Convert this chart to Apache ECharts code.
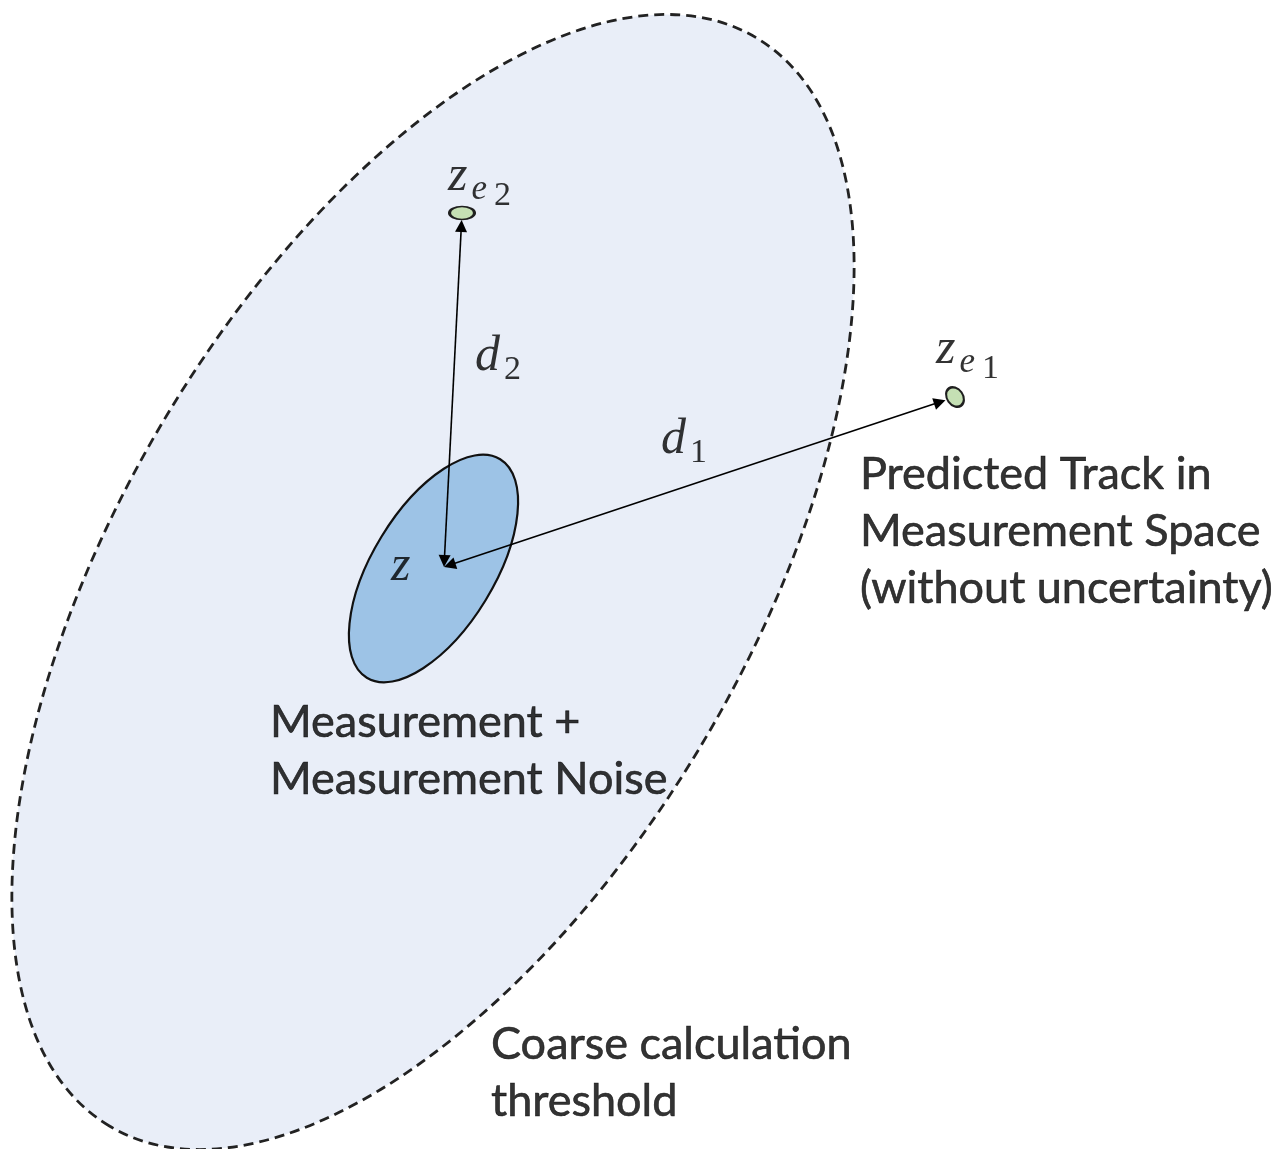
<!DOCTYPE html>
<html><head><meta charset="utf-8">
<script src="https://cdn.jsdelivr.net/npm/echarts@6/dist/echarts.min.js"></script>
<style>html,body{margin:0;padding:0;background:#fff}#c{width:1285px;height:1149px}</style>
</head><body><div id="c"></div>
<script>
// ---- data (measurement-space units; y grows downward) ----
// regions: [centerX, centerY, semiMajor, semiMinor, tiltDeg]
const gateRegion = [433, 582, 633, 314, 59.3];     // coarse calculation threshold
const noiseRegion = [433.5, 568.5, 128, 61, 58.6]; // measurement + measurement noise
const measurementZ = [444, 567];
const predictedNames = ['ze1', 'ze2'];
const predictedTracks = [[955, 397], [462, 213]];
const distanceNames = ['d1', 'd2'];
// annotation anchors
const noteTexts = ['Predicted Track in\nMeasurement Space\n(without uncertainty)', 'Measurement +\nMeasurement Noise', 'Coarse calculation\nthreshold'];
const noteAnchors = [[860, 446], [270, 694], [491, 1016]];
const mathTexts = ['{v|z}{s|e}{n|1}', '{v|z}{s|e}{n|2}', '{v|d}{m|1}', '{v|d}{m|2}', '{v|z}'];
const mathAnchors = [[936, 325], [448, 152], [661, 415], [475, 332], [391, 542]];

// ---- helpers ----
function toward(p, q, d) { // point at distance d from p toward q
  const dx = q[0] - p[0], dy = q[1] - p[1], L = Math.hypot(dx, dy);
  return [p[0] + dx / L * d, p[1] + dy / L * d];
}
const ARROW = 12;
const markerGap = [10, 7];
const arrowData = predictedTracks.map((t, i) => ({
  name: distanceNames[i],
  coords: [toward(measurementZ, t, ARROW / 2), toward(t, measurementZ, markerGap[i] + ARROW / 2)]
}));

function ellipseSeries(region, style, z) {
  return {
    type: 'custom', coordinateSystem: 'cartesian2d', silent: true, z: z,
    data: [region],
    renderItem: function (params, api) {
      const c = api.coord([api.value(0), api.value(1)]);
      const s = api.size([api.value(2), api.value(3)]);
      return {
        type: 'ellipse', x: c[0], y: c[1], rotation: api.value(4) * Math.PI / 180,
        shape: { cx: 0, cy: 0, rx: s[0], ry: s[1] },
        style: style
      };
    }
  };
}

const chart = echarts.init(document.getElementById('c'), null, { renderer: 'canvas' });
chart.setOption({
  animation: false,
  backgroundColor: '#ffffff',
  grid: { left: 0, right: 0, top: 0, bottom: 0, containLabel: false },
  xAxis: { type: 'value', min: 0, max: 1285, show: false, splitLine: { show: false } },
  yAxis: { type: 'value', min: 0, max: 1149, inverse: true, show: false, splitLine: { show: false } },
  series: [
    ellipseSeries(gateRegion, { fill: '#e9eef8', stroke: '#222222', lineWidth: 2.8, lineDash: [10, 6] }, 1),
    ellipseSeries(noiseRegion, { fill: '#9dc3e6', stroke: '#111111', lineWidth: 2.2 }, 2),
    {
      type: 'lines', coordinateSystem: 'cartesian2d', z: 3, silent: true,
      symbol: ['triangle', 'triangle'], symbolSize: ARROW,
      lineStyle: { color: '#000', width: 1.6, opacity: 1, curveness: 0 },
      itemStyle: { color: '#000' },
      data: arrowData
    },
    {
      type: 'scatter', z: 4, silent: true,
      data: predictedTracks.map((p, i) => ({
        name: predictedNames[i], value: p,
        symbolSize: i === 0 ? [21, 16] : [25, 13],
        symbolRotate: i === 0 ? -55 : 0
      })),
      symbol: 'circle',
      itemStyle: { color: '#c5e0b4', borderColor: '#1f1f1f', borderWidth: 2.2, opacity: 1 }
    },
    {
      type: 'scatter', z: 5, silent: true, symbolSize: 0,
      data: noteAnchors.map((p, i) => ({ value: p, name: noteTexts[i] })),
      label: {
        show: true, position: [0, 0], align: 'left', verticalAlign: 'top',
        formatter: '{b}', fontFamily: 'Lato', fontSize: 45, lineHeight: 57, color: '#000',
        textBorderColor: '#000', textBorderWidth: 0.6
      }
    },
    {
      type: 'scatter', z: 5, silent: true, symbolSize: 0,
      data: mathAnchors.map((p, i) => ({ value: p, name: mathTexts[i] })),
      label: {
        show: true, position: [0, 0], align: 'left', verticalAlign: 'top',
        formatter: '{b}', color: '#000',
        rich: {
          v: { fontFamily: 'Liberation Serif', fontStyle: 'italic', fontSize: 50, lineHeight: 48, verticalAlign: 'top', color: '#000' },
          s: { fontFamily: 'Liberation Serif', fontStyle: 'italic', fontSize: 35, lineHeight: 34, verticalAlign: 'top', padding: [20, 0, 0, 4], color: '#000' },
          n: { fontFamily: 'Liberation Serif', fontSize: 34, lineHeight: 34, verticalAlign: 'top', padding: [27, 0, 0, 7], color: '#000' },
          m: { fontFamily: 'Liberation Serif', fontSize: 34, lineHeight: 34, verticalAlign: 'top', padding: [21, 0, 0, 4], color: '#000' }
        }
      }
    }
  ]
});
</script>
</body></html>
